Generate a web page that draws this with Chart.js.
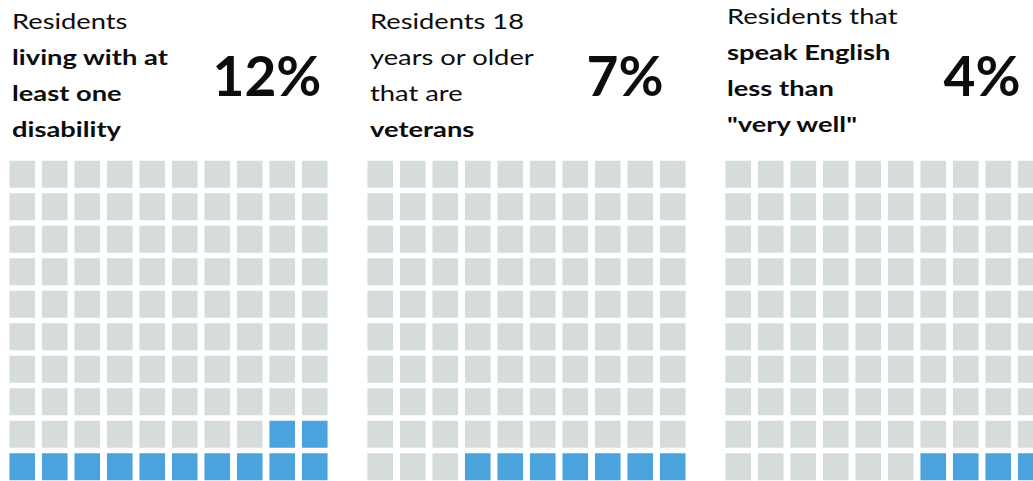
<!DOCTYPE html>
<html lang="en">
<head>
<meta charset="UTF-8">
<title>Waffle charts</title>
<script src="https://cdn.jsdelivr.net/npm/chart.js"></script>
<style>
    html, body {
        margin: 0;
        padding: 0;
        width: 1033px;
        height: 481px;
        overflow: hidden;
        background: #ffffff;
        font-family: Lato, "Open Sans", sans-serif;
        color: #0d0d0d;
    }
    .panel { position: absolute; top: 0; width: 360px; height: 481px; }
    .label {
        position: absolute;
        left: 2px;
        top: 3px;
        font-size: 21px;
        line-height: 36px;
        white-space: nowrap;
        transform: scaleX(1.3);
        transform-origin: left top;
    }
    .label b { font-weight: 700; }
    .pct {
        position: absolute;
        width: 200px;
        margin-left: -100px;
        top: 42px;
        text-align: center;
        font-size: 55px;
        font-weight: 700;
    }
    canvas { position: absolute; }
</style>
</head>
<body>
<div id="panels"></div>

<script>
    // data
    const panelTitles = [
        ['Residents', '<b>living with at</b>', '<b>least one</b>', '<b>disability</b>'],
        ['Residents 18', 'years or older', 'that are', '<b>veterans</b>'],
        ['Residents that', '<b>speak English</b>', '<b>less than</b>', '<b>"very well"</b>']
    ];
    const panelPercents = [12, 7, 4];
    const gridColumns = ['1', '2', '3', '4', '5', '6', '7', '8', '9', '10'];
    const gridRows = 10;

    const filledColor = '#4aa3dc';
    const emptyColor = '#d6dbdb';

    // panel placement (left edge of text, left edge of grid canvas)
    const panelLeft = [10, 368, 725];
    const gridLeft = [6, 364, 722];
    const labelShift = [0, 0, -5];

    const holder = document.getElementById('panels');

    panelTitles.forEach(function (lines, i) {
        const panel = document.createElement('div');
        panel.className = 'panel';
        panel.style.left = panelLeft[i] + 'px';

        const label = document.createElement('div');
        label.className = 'label';
        label.style.top = (3 + labelShift[i]) + 'px';
        label.innerHTML = lines.join('<br>');
        panel.appendChild(label);

        const pct = document.createElement('div');
        pct.className = 'pct';
        pct.style.left = '257px';
        pct.textContent = panelPercents[i] + '%';
        panel.appendChild(pct);
        holder.appendChild(panel);

        const canvas = document.createElement('canvas');
        canvas.width = 325;
        canvas.height = 325;
        canvas.style.left = gridLeft[i] + 'px';
        canvas.style.top = '158px';
        holder.appendChild(canvas);

        plotWaffle(canvas, panelPercents[i]);
    });

    // one stacked bar per column, one dataset per row; cells fill from the bottom row, right to left
    function plotWaffle(canvas, percent) {
        const datasets = [];
        for (let r = 0; r < gridRows; r++) {
            datasets.push({
                data: gridColumns.map(function () { return 1; }),
                backgroundColor: gridColumns.map(function (c, col) {
                    const k = r * gridColumns.length + (gridColumns.length - 1 - col);
                    return k < percent ? filledColor : emptyColor;
                }),
                borderColor: '#ffffff',
                borderWidth: { top: 2.7, bottom: 2.7, left: 0, right: 0 },
                borderSkipped: false,
                categoryPercentage: 1,
                barPercentage: 0.8
            });
        }

        new Chart(canvas, {
            type: 'bar',
            data: { labels: gridColumns, datasets: datasets },
            options: {
                responsive: false,
                animation: false,
                events: [],
                layout: { padding: 0 },
                plugins: { legend: { display: false }, tooltip: { enabled: false } },
                scales: {
                    x: { stacked: true, display: false },
                    y: { stacked: true, display: false, min: 0, max: gridRows }
                }
            }
        });
    }
</script>
</body>
</html>
